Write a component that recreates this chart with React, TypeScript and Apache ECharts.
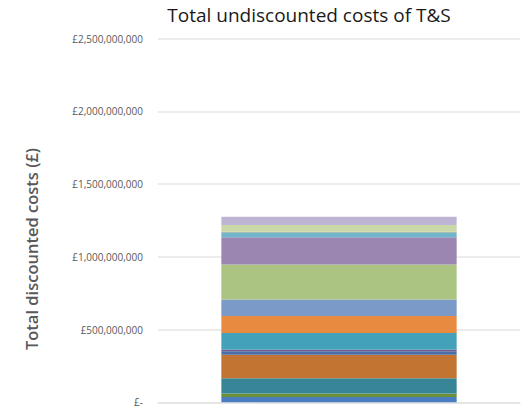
import React, { useEffect, useRef } from "react";
import * as echarts from "echarts";

const categories = ["T&S"];
const segmentNames = [
  "Cost 1", "Cost 2", "Cost 3", "Cost 4", "Cost 5", "Cost 6", "Cost 7", "Cost 8",
  "Cost 9", "Cost 10", "Cost 11", "Cost 12", "Cost 13", "Cost 14", "Cost 15",
];
const segmentValues = [
  36e6, 25e6, 105e6, 161e6, 24e6, 10e6, 115e6, 118e6,
  113e6, 240e6, 188e6, 34e6, 4e6, 46e6, 57e6,
];
const segmentColors = [
  "#4A7CC0", "#6E8F3A", "#368697", "#C27432", "#4A6FA8", "#7A5A8A", "#44A1BA", "#E88A40",
  "#7B9AC8", "#ABC482", "#9A86B0", "#6FB6CC", "#E8A050", "#C9D8A8", "#C0B4D4",
];
const yTicks = [0, 500e6, 1000e6, 1500e6, 2000e6, 2500e6];

function fmt(v: number): string {
  if (v === 0) return "£-";
  return "£" + Math.round(v).toString().replace(/\B(?=(\d{3})+(?!\d))/g, ",");
}

export default function App() {
  const ref = useRef<HTMLDivElement>(null);
  useEffect(() => {
    if (!ref.current) return;
    const chart = echarts.init(ref.current, undefined, { renderer: "svg" });
    chart.setOption({
      animation: false,
      backgroundColor: "#ffffff",
      title: {
        text: "Total undiscounted costs of T&S",
        left: 304,
        top: 0,
        textAlign: "center",
        textStyle: { fontFamily: "Open Sans", fontSize: 19, fontWeight: "normal", color: "#1a1a1a" },
      },
      graphic: [
        {
          type: "text",
          x: 31,
          y: 249,
          rotation: Math.PI / 2,
          style: {
            text: "Total discounted costs (£)",
            fontFamily: "Open Sans",
            fontSize: 16.5,
            fontWeight: 600,
            fill: "#595959",
            textAlign: "center",
            textVerticalAlign: "middle",
          },
        },
      ],
      grid: { left: 158, right: 10, top: 38.7, bottom: 6.7 },
      xAxis: {
        type: "category",
        data: categories,
        axisLabel: { show: false },
        axisTick: { show: false },
        axisLine: { show: true, lineStyle: { color: "#E3E3E3", width: 1.5 } },
      },
      yAxis: {
        type: "value",
        min: yTicks[0],
        max: yTicks[yTicks.length - 1],
        interval: 500e6,
        axisLine: { show: false },
        axisTick: { show: false },
        splitLine: { lineStyle: { color: "#E6E6E6", width: 1.5 } },
        axisLabel: {
          margin: 15,
          fontFamily: "Open Sans",
          fontSize: 10,
          color: "#595959",
          formatter: (v: number) => fmt(v),
        },
      },
      series: segmentValues.map((v, i) => ({
        type: "bar",
        name: segmentNames[i],
        stack: "total",
        barWidth: "65%",
        data: [v],
        itemStyle: { color: segmentColors[i] },
      })),
    });
    return () => chart.dispose();
  }, []);
  return (
    <div
      ref={ref}
      style={{ position: "fixed", left: 0, top: 0, width: 530, height: 409 }}
    />
  );
}
